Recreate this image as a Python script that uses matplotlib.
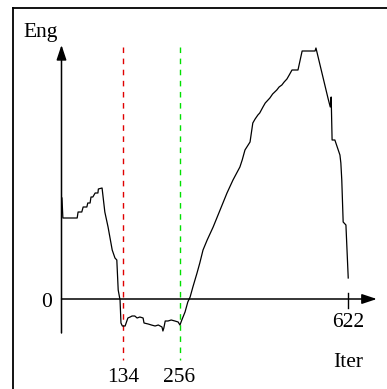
import matplotlib
matplotlib.use("Agg")
import matplotlib.pyplot as plt
from matplotlib.lines import Line2D

plt.rcParams['font.family'] = ['Liberation Serif', 'DejaVu Serif']

# energy curve (iteration, energy)
iters = [1, 3, 34, 36, 44, 47, 55, 57, 62, 64, 68, 73, 79, 80, 88,
         94, 101, 110, 116, 120, 123, 127, 129, 132, 138, 144, 149, 153,
         159, 164, 170, 177, 179, 188, 195, 203, 210, 218, 220, 222, 225,
         231, 238, 246, 253, 257, 261, 268, 274, 277, 279, 285, 294, 300,
         307, 316, 329, 344, 359, 372, 387, 392, 398, 409, 415, 420, 426,
         430, 437, 442, 452, 458, 467, 472, 478, 483, 489, 494, 500, 513,
         522, 550, 552, 578, 583, 585, 587, 593, 604, 606, 608, 611, 617, 622]
energy = [101, 81, 81, 87, 87, 92, 92, 96, 96, 102, 102, 106, 106, 110, 111,
          87, 72, 49, 41, 39, 9, -1, -24, -27, -27, -19, -18, -17,
          -17, -19, -18, -19, -24, -25, -26, -27, -26, -28, -32, -29, -22,
          -22, -21, -22, -23, -26, -21, -13, -3, 0, 2, 12, 26, 36,
          49, 59, 72, 89, 106, 119, 132, 139, 149, 157, 176, 180, 184,
          186, 192, 196, 201, 205, 209, 212, 214, 217, 220, 224, 229, 229,
          248, 248, 251, 201, 192, 202, 159, 159, 144, 136, 119, 77, 74, 21]

marks = [134, 256]
mark_colors = ['#e00000', '#00e000']
last_iter = 622

fig = plt.figure(figsize=(3.87, 3.89), dpi=100)
ax = fig.add_axes([0, 0, 1, 1])
ax.set_xlim(-133.4, 706.1)
ax.set_ylim(-90, 299)
ax.axis('off')

# outer frame: only the top and left edges show in the image
fx, fy = 13 / 387, 1 - 8 / 389
fig.add_artist(Line2D([fx, 1.0], [fy, fy], transform=fig.transFigure,
                      color='black', lw=1.3))
fig.add_artist(Line2D([fx, fx], [0.0, fy], transform=fig.transFigure,
                      color='black', lw=1.3))

# axes with arrows
ax.annotate('', xy=(0, 254), xytext=(0, -34),
            arrowprops=dict(arrowstyle='-|>,head_length=0.9,head_width=0.3',
                            color='black', lw=1.1, shrinkA=0, shrinkB=0))
ax.annotate('', xy=(684, 0), xytext=(0, 0),
            arrowprops=dict(arrowstyle='-|>,head_length=0.9,head_width=0.3',
                            color='black', lw=1.1, shrinkA=0, shrinkB=0))
ax.plot([last_iter, last_iter], [6, -9], color='black', lw=1.0)

for m, c in zip(marks, mark_colors):
    ax.plot([m, m], [252, -61], color=c, lw=1.0, linestyle=(0, (4, 4)))
    ax.text(m, -83, str(m), ha='center', va='baseline', fontsize=15.5)

ax.plot(iters, energy, color='black', lw=0.9)

ax.text(last_iter, -28, str(last_iter), ha='center', va='baseline', fontsize=15.5)
ax.text(-20.6, -8, '0', ha='right', va='baseline', fontsize=15.5)
ax.text(23 / 387, 1 - 37 / 389, 'Eng', transform=ax.transAxes,
        ha='left', va='baseline', fontsize=15.5)
ax.text(333 / 387, 1 - 367 / 389, 'Iter', transform=ax.transAxes,
        ha='left', va='baseline', fontsize=15.5)

fig.savefig('out.png', dpi=100)
plt.close(fig)
